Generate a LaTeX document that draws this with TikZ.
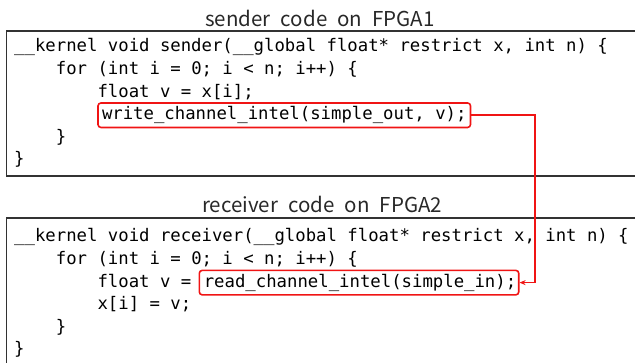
\documentclass[tikz,border=0pt]{standalone}
\usepackage{fontspec}
\newfontfamily\codefont{DejaVu Sans Mono}
\newfontfamily\titlefont[WordSpace=2.2]{Noto Sans CJK JP}
\usetikzlibrary{arrows.meta}
\definecolor{redline}{RGB}{240,20,20}
\definecolor{frame}{RGB}{50,50,50}
\definecolor{titlegray}{RGB}{40,40,40}
\tikzset{
  code/.style={anchor=base west, inner sep=0pt, font=\codefont\fontsize{17.3}{20}\selectfont},
  hl/.style={code, draw=redline, line width=1.6pt, rounded corners=3pt, inner xsep=4pt, inner ysep=3.6pt},
  title/.style={anchor=base, inner sep=0pt, text=titlegray, font=\titlefont\fontsize{20.5}{24}\selectfont},
  panel/.style={draw=frame, line width=1.1pt},
  link/.style={draw=redline, line width=1.6pt, -{Stealth[length=6pt,width=5pt]}}
}
\begin{document}
\begin{tikzpicture}[x=1pt,y=-1pt]
\useasboundingbox (0,0) rectangle (635,363);
% panels
\draw[panel] (640,31) -- (6.5,31) -- (6.5,176) -- (640,176);
\draw[panel] (640,218) -- (6.5,218) -- (6.5,370);
% titles
\node[title] (t1) at (320,26.5) {sender code on FPGA1};
\node[title] (t2) at (322,212.5) {receiver code on FPGA2};
% sender code
\node[code] (s1) at (14,52) {\_\_kernel void sender(\_\_global float* restrict x, int n) \{};
\node[code] (s2) at (14,74.6) {\phantom{xxxx}for (int i = 0; i < n; i++) \{};
\node[code] (s3) at (14,97.2) {\phantom{xxxxxxxx}float v = x[i];};
\node[hl] (w) at (97.2,119.8) {write\_channel\_intel(simple\_out, v);};
\node[code] (s5) at (14,142.4) {\phantom{xxxx}\}};
\node[code] (s6) at (14,165) {\}};
% receiver code
\node[code] (r1) at (14,242) {\_\_kernel void receiver(\_\_global float* restrict x, int n) \{};
\node[code] (r2) at (14,264.6) {\phantom{xxxx}for (int i = 0; i < n; i++) \{};
\node[code] (r3) at (14,287.2) {\phantom{xxxxxxxx}float v =};
\node[hl, inner xsep=2.5pt] (rd) at (198.5,287.2) {\hspace{2pt}read\_channel\_intel(simple\_in);};
\node[code] (r4) at (14,309.8) {\phantom{xxxxxxxx}x[i] = v;};
\node[code] (r5) at (14,332.4) {\phantom{xxxx}\}};
\node[code] (r6) at (14,355) {\}};
% link
\coordinate (c1) at (535,0);
\draw[link] (w.east) -- (w.east -| c1) -- (rd.east -| c1) -- (rd.east);
\end{tikzpicture}
\end{document}
